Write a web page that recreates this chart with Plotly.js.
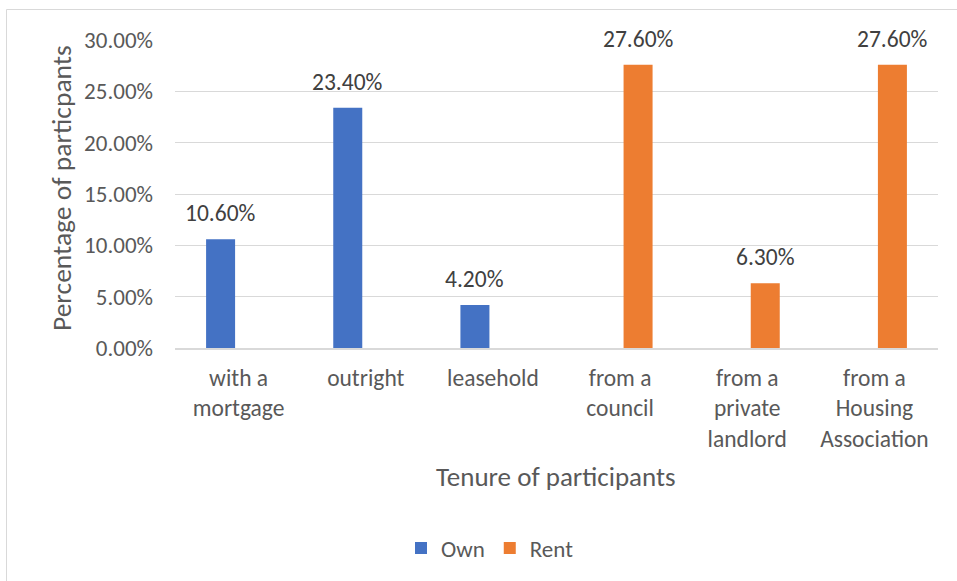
<!DOCTYPE html>
<html>
<head>
<meta charset="utf-8">
<script src="https://cdn.plot.ly/plotly-3.0.1.min.js"></script>
<style>html,body{margin:0;padding:0;background:#fff;}#chart{width:957px;height:581px;}</style>
</head>
<body>
<div id="chart"></div>
<script>
var categories = ['with a<br>mortgage', 'outright', 'leasehold', 'from a<br>council', 'from a<br>private<br>landlord', 'from a<br>Housing<br>Association'];
var ownValues = [0.106, 0.234, 0.042, null, null, null];
var rentValues = [null, null, null, 0.276, 0.063, 0.276];
var seriesNames = ['Own', 'Rent'];
var yTicks = [0, 0.05, 0.10, 0.15, 0.20, 0.25, 0.30];

var FONT = 'Calibri, Carlito, Lato, sans-serif';
var W = 957, H = 581;
var L = 175, R = 19, T = 40, B = 233;
var plotW = W - L - R, plotH = H - T - B;
var bargap = 0.434;
var bargroupgap = 0.194;
var barShift = (plotW / categories.length) * (1 - bargap) / 4;

function px(x) { return (x - L) / plotW; }
function py(y) { return (H - B - y) / plotH; }

var traces = [
  {type: 'bar', name: seriesNames[0], x: categories, y: ownValues, marker: {color: '#4472C4'}, hoverinfo: 'y'},
  {type: 'bar', name: seriesNames[1], x: categories, y: rentValues, marker: {color: '#ED7D31'}, hoverinfo: 'y'}
];

var annotations = [];
function addLabels(vals, shift) {
  vals.forEach(function (v, i) {
    if (v === null) return;
    annotations.push({
      x: categories[i], y: v, xref: 'x', yref: 'y', xshift: shift, yshift: 26,
      text: (v * 100).toFixed(2) + '%', showarrow: false, yanchor: 'middle',
      font: {family: FONT, size: 23.5, color: '#404040'}
    });
  });
}
addLabels(ownValues, -barShift);
addLabels(rentValues, barShift);

annotations.push({
  x: px(61), y: py(188), xref: 'paper', yref: 'paper', text: 'Percentage of particpants',
  textangle: -90, showarrow: false, xanchor: 'center', yanchor: 'middle',
  font: {family: FONT, size: 27.5, color: '#595959'}
});
annotations.push({
  x: px(556), y: py(476), xref: 'paper', yref: 'paper', text: 'Tenure of participants',
  showarrow: false, xanchor: 'center', yanchor: 'middle',
  font: {family: FONT, size: 27, color: '#595959'}
});

var layout = {
  width: W, height: H,
  margin: {l: L, r: R, t: T, b: B, pad: 0},
  paper_bgcolor: '#ffffff', plot_bgcolor: '#ffffff',
  barmode: 'group', bargap: bargap, bargroupgap: bargroupgap,
  showlegend: true,
  legend: {
    orientation: 'h', x: px(490), xanchor: 'center', y: py(548), yanchor: 'middle',
    font: {family: FONT, size: 23, color: '#595959'}, traceorder: 'normal'
  },
  xaxis: {
    type: 'category', showgrid: false, zeroline: false,
    showline: true, linecolor: '#d9d9d9', linewidth: 1.5,
    ticks: '', ticklabelstandoff: 8,
    tickfont: {family: FONT, size: 23.5, color: '#595959'}, fixedrange: true
  },
  yaxis: {
    range: [0, 0.3], tickvals: yTicks, tickformat: '.2%',
    showgrid: true, gridcolor: '#d9d9d9', gridwidth: 1,
    zeroline: false, showline: false, ticks: '', ticklabelstandoff: 21,
    tickfont: {family: FONT, size: 23, color: '#595959'}, fixedrange: true
  },
  annotations: annotations,
  shapes: [{
    type: 'rect', xref: 'paper', yref: 'paper', layer: 'below',
    x0: px(6.5), x1: px(965), y0: py(9.5), y1: py(600),
    line: {color: '#d9d9d9', width: 1}, fillcolor: 'rgba(0,0,0,0)'
  }],
  font: {family: FONT}
};

Plotly.newPlot('chart', traces, layout, {displayModeBar: false, staticPlot: true});
</script>
</body>
</html>
